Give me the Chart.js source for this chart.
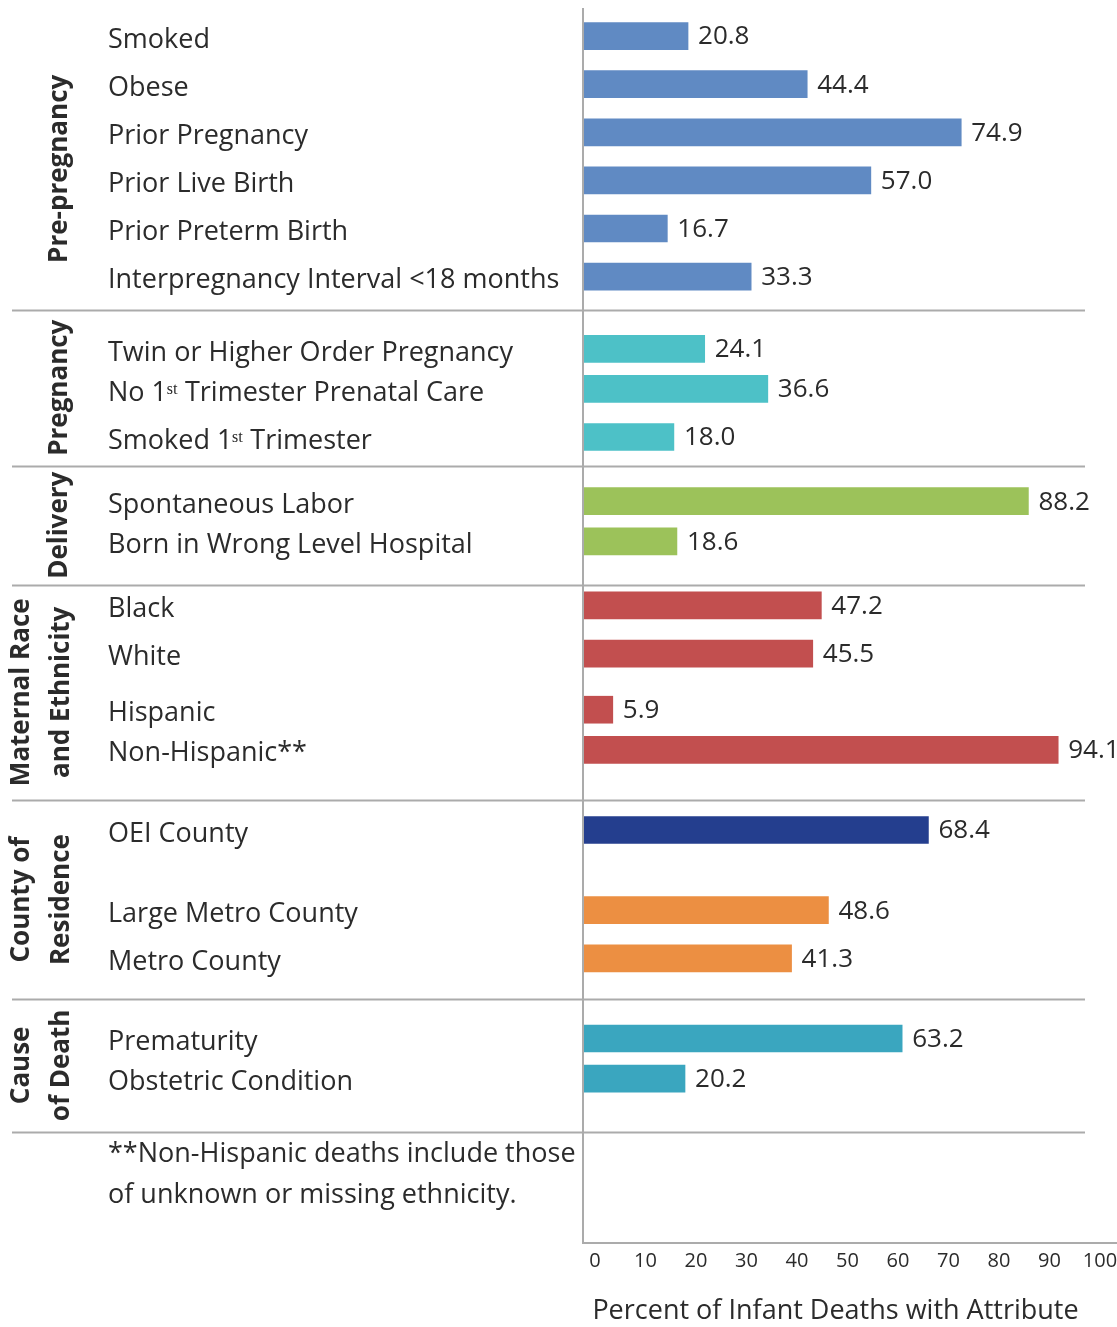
<!DOCTYPE html>
<html>
<head>
<meta charset="utf-8">
<script src="https://cdn.jsdelivr.net/npm/chart.js@4.4.1/dist/chart.umd.min.js"></script>
<style>
  html, body { margin: 0; padding: 0; background: #fff; }
  #wrap { width: 1117px; height: 1327px; }
</style>
</head>
<body>
<div id="wrap"><canvas id="myChart" width="1117" height="1327"></canvas></div>
<script>
// Data
const categories = [
    'Smoked', 'Obese', 'Prior Pregnancy', 'Prior Live Birth', 'Prior Preterm Birth',
    'Interpregnancy Interval <18 months',
    'Twin or Higher Order Pregnancy', 'No 1ˢᵗ Trimester Prenatal Care', 'Smoked 1ˢᵗ Trimester',
    'Spontaneous Labor', 'Born in Wrong Level Hospital',
    'Black', 'White', 'Hispanic', 'Non-Hispanic**',
    'OEI County', 'Large Metro County', 'Metro County',
    'Prematurity', 'Obstetric Condition'
];
const values = [20.8, 44.4, 74.9, 57.0, 16.7, 33.3, 24.1, 36.6, 18.0, 88.2, 18.6,
                47.2, 45.5, 5.9, 94.1, 68.4, 48.6, 41.3, 63.2, 20.2];
const groupNames = [['Pre-pregnancy'], ['Pregnancy'], ['Delivery'],
                    ['Maternal Race', 'and Ethnicity'], ['County of', 'Residence'], ['Cause', 'of Death']];
const xTicks = [0, 10, 20, 30, 40, 50, 60, 70, 80, 90, 100];
const axisTitle = 'Percent of Infant Deaths with Attribute';
const footnote = ['**Non-Hispanic deaths include those', 'of unknown or missing ethnicity.'];

// Layout: the y axis is cut into small slots, each row sits in one of them
const SLOTS = 154;
const rowSlot = [3, 9, 15, 21, 27, 33, 42, 47, 53, 61, 66, 74, 80, 87, 92, 102, 112, 118, 128, 133];
const noteSlot = [142, 147];
const groupEdges = [2, 37.1, 56.6, 71.4, 98.25, 123.1, 139.6];

// Styles
const barColors = ['#608ac3', '#608ac3', '#608ac3', '#608ac3', '#608ac3', '#608ac3',
                   '#4dc1c7', '#4dc1c7', '#4dc1c7', '#9cc25a', '#9cc25a',
                   '#c24f4f', '#c24f4f', '#c24f4f', '#c24f4f',
                   '#243e8e', '#ec8f42', '#ec8f42', '#3aa6bf', '#3aa6bf'];
const textColor = '#2b2b2b';
const lineColor = '#ababab';
const FONT = '"Open Sans"';

const labels = new Array(SLOTS).fill('');
const data = new Array(SLOTS).fill(null);
const colors = new Array(SLOTS).fill('transparent');
rowSlot.forEach((s, i) => {
    labels[s] = categories[i];
    data[s] = values[i];
    colors[s] = barColors[i];
});
noteSlot.forEach((s, i) => { labels[s] = footnote[i]; });

const decor = {
    id: 'decor',
    afterDatasetsDraw(chart) {
        const { ctx, chartArea: a, scales: { y } } = chart;
        const meta = chart.getDatasetMeta(0);
        ctx.save();

        // value labels
        ctx.font = '26px ' + FONT;
        ctx.fillStyle = textColor;
        ctx.textBaseline = 'middle';
        ctx.textAlign = 'left';
        rowSlot.forEach((s, i) => {
            const el = meta.data[s];
            ctx.fillText(values[i].toFixed(1), el.x + 10, el.y + 1);
        });

        // axis lines and separators
        ctx.strokeStyle = lineColor;
        ctx.lineWidth = 2;
        ctx.beginPath();
        ctx.moveTo(a.left, a.top);
        ctx.lineTo(a.left, a.bottom);
        ctx.lineTo(chart.width, a.bottom);
        ctx.stroke();
        for (let g = 1; g < groupEdges.length; g++) {
            const py = Math.round(y.getPixelForValue(groupEdges[g])) + 0.5;
            ctx.beginPath();
            ctx.moveTo(12, py);
            ctx.lineTo(1085, py);
            ctx.stroke();
        }

        // group labels
        ctx.font = 'bold 26px ' + FONT;
        ctx.textAlign = 'center';
        groupNames.forEach((lines, g) => {
            const yc = (y.getPixelForValue(groupEdges[g]) + y.getPixelForValue(groupEdges[g + 1])) / 2;
            const xs = lines.length === 1 ? [60] : [22, 62];
            lines.forEach((t, k) => {
                ctx.save();
                ctx.translate(xs[k], yc);
                ctx.rotate(-Math.PI / 2);
                ctx.fillText(t, 0, 0);
                ctx.restore();
            });
        });
        ctx.restore();
    }
};

Chart.defaults.font.family = FONT;
const ctx = document.getElementById('myChart').getContext('2d');
const myChart = new Chart(ctx, {
    type: 'bar',
    data: {
        labels: labels,
        datasets: [{
            data: data,
            backgroundColor: colors,
            barThickness: 27
        }]
    },
    options: {
        indexAxis: 'y',
        responsive: false,
        animation: false,
        layout: { padding: { left: 108, top: 8, right: 29, bottom: 0 } },
        plugins: { legend: { display: false }, tooltip: { enabled: false } },
        scales: {
            x: {
                min: 0,
                max: 100,
                afterBuildTicks(scale) { scale.ticks = xTicks.map(v => ({ value: v })); },
                ticks: { color: textColor, font: { size: 20 }, padding: 6, labelOffset: 12, maxRotation: 0 },
                grid: { display: false, drawTicks: false },
                border: { display: false },
                title: { display: true, text: axisTitle, color: textColor, font: { size: 27, lineHeight: 1.1 }, padding: { top: 0, bottom: 1 } },
                afterFit(scale) { scale.height = 84; }
            },
            y: {
                ticks: { autoSkip: false, crossAlign: 'far', color: textColor, font: { size: 27 }, padding: 0, labelOffset: 4 },
                grid: { display: false, drawTicks: false },
                border: { display: false },
                afterFit(scale) {
                    scale.width = 475;
                    scale.paddingTop = 0;
                    scale.paddingBottom = 0;
                }
            }
        }
    },
    plugins: [decor]
});
</script>
</body>
</html>
